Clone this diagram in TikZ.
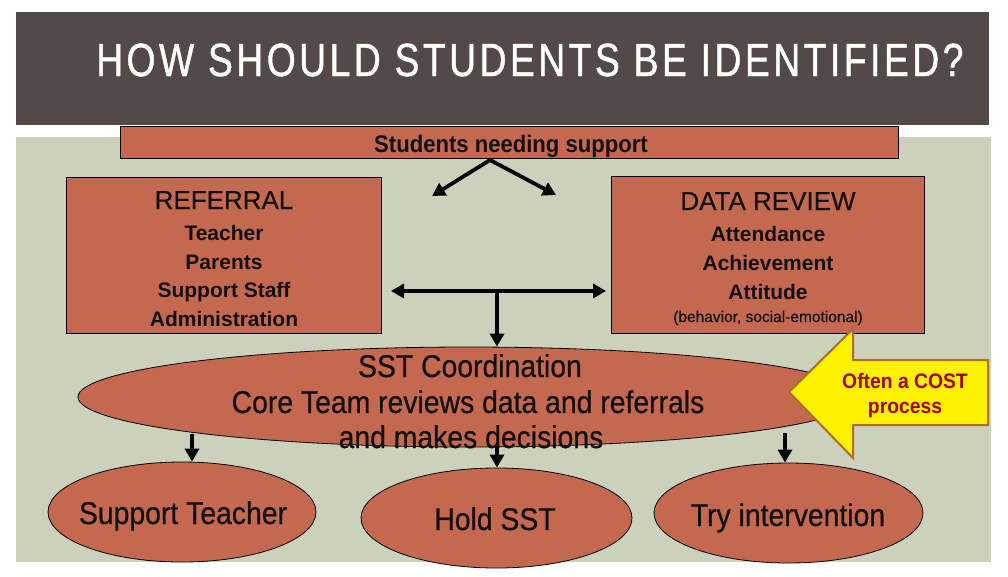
\documentclass[tikz,border=0pt]{standalone}
\usepackage{fontspec}
\setmainfont{Liberation Sans}
\newfontfamily\narrowf[FakeStretch=0.9,FakeBold=0.6]{Liberation Sans}
\newfontfamily\narrowbf[FakeStretch=0.92]{Liberation Sans Bold}
\newfontfamily\headf[FakeBold=0.4]{Liberation Sans}
\newfontfamily\titlef[FakeStretch=0.8,LetterSpace=7.6,FakeBold=1]{Liberation Sans}
\usetikzlibrary{shapes.geometric,arrows.meta}
\definecolor{hdr}{RGB}{82,74,72}
\definecolor{sage}{RGB}{204,209,188}
\definecolor{terra}{RGB}{196,105,80}
\definecolor{ink}{RGB}{20,15,15}
\definecolor{costred}{RGB}{165,0,0}
\definecolor{costedge}{RGB}{175,110,35}
\tikzset{
  box/.style={draw=black, line width=0.8pt, fill=terra, inner sep=0pt},
  oval/.style={ellipse, draw=black, line width=0.8pt, fill=terra, inner sep=0pt, text=ink},
  hd/.style={font=\headf\fontsize{26}{30}\selectfont, text=ink, anchor=base, inner sep=0pt},
  it/.style={font=\bfseries\fontsize{21}{25}\selectfont, text=ink, anchor=base, inner sep=0pt},
  big/.style={anchor=base, inner sep=0pt, text=ink, font=\narrowf\fontsize{31.5}{35}\selectfont},
  fat/.style={line width=3.8pt, -{Triangle[length=13pt,width=14pt]}},
  fatboth/.style={line width=3.8pt, {Triangle[length=13pt,width=14pt]}-{Triangle[length=13pt,width=14pt]}},
}
\begin{document}
\begin{tikzpicture}[x=1pt,y=-1pt]
\useasboundingbox (0,0) rectangle (1008,576);
\fill[white] (0,0) rectangle (1008,576);
% header and background
\fill[hdr] (16,12) rectangle (989,125);
\fill[sage] (16,137) rectangle (991,562);
\node[text=white, anchor=base west, inner sep=0pt, font=\titlef\fontsize{46.5}{50}\selectfont] (title) at (96,76) {HOW SHOULD STUDENTS BE IDENTIFIED?};

% top box
\node[box, minimum width=778, minimum height=32] (top) at (509,142) {};
\node[anchor=base, inner sep=0pt, text=ink, font=\narrowbf\fontsize{24}{27}\selectfont] (topT) at (511,152) {Students needing support};

% referral box
\node[box, minimum width=315, minimum height=156] (ref) at (223.5,255) {};
\node[hd] (refH) at (224,209) {REFERRAL};
\node[it] (ref1) at (224,240) {Teacher};
\node[it] (ref2) at (224,269) {Parents};
\node[it] (ref3) at (224,297) {Support Staff};
\node[it] (ref4) at (224,326) {Administration};

% data review box
\node[box, minimum width=313, minimum height=157] (dat) at (767.5,254.5) {};
\node[hd] (datH) at (768,210) {DATA REVIEW};
\node[it] (dat1) at (768,241) {Attendance};
\node[it] (dat2) at (768,270) {Achievement};
\node[it] (dat3) at (768,299) {Attitude};
\node[anchor=base, inner sep=0pt, text=ink, font=\headf\fontsize{15.5}{18}\selectfont] (dat4) at (768,322) {(behavior, social-emotional)};

% arrows from top
\coordinate (apex) at (490,160);
\coordinate (al) at (432,196);
\coordinate (ar) at (556,195);
\draw[fat] (apex) -- (al);
\draw[fat] (apex) -- (ar);

% double arrow and down arrow
\coordinate (hl) at (391,291);
\coordinate (hr) at (606,291);
\coordinate (hm) at (497,291);
\draw[fatboth] (hl) -- (hr);

% SST ellipse
\node[oval, minimum width=782, minimum height=100] (sst) at (469,397) {};
\draw[fat] (hm) -- (sst.north -| hm);
\node[big] (s1) at (470,377) {SST Coordination};
\node[big] (s2) at (468,413) {Core Team reviews data and referrals};
\node[big] (s3) at (471,448) {and makes decisions};

% bottom ellipses
\node[oval, minimum width=268, minimum height=100] (st) at (182,512) {};
\node[oval, minimum width=271, minimum height=100] (hs) at (496.5,518) {};
\node[oval, minimum width=269, minimum height=100] (ti) at (788.5,513) {};
\node[big] (stT) at (183,524) {Support Teacher};
\node[big] (hsT) at (495,530) {Hold SST};
\node[big] (tiT) at (788,526) {Try intervention};

\coordinate (d1) at (192,434);
\coordinate (d2) at (497,447);
\coordinate (d3) at (785,433);
\draw[fat] (d1) -- (d1 |- st.north);
\draw[fat] (d2) -- (d2 |- hs.north);
\draw[fat] (d3) -- (d3 |- ti.north);

% COST block arrow
\draw[fill=yellow, draw=costedge, line width=2pt, line join=miter]
  (789,392) -- (853,329) -- (853,360) -- (988,360) -- (988,425) -- (853,425) -- (853,458) -- cycle;
\node[anchor=base, inner sep=0pt, text=costred, font=\narrowbf\fontsize{21}{25}\selectfont] (c1) at (905,388) {Often a COST};
\node[anchor=base, inner sep=0pt, text=costred, font=\narrowbf\fontsize{21}{25}\selectfont] (c2) at (905,413) {process};
\end{tikzpicture}
\end{document}
